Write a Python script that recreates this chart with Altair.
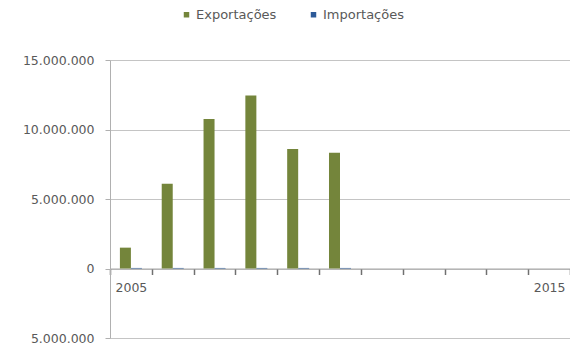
import altair as alt
import pandas as pd

years = [str(y) for y in range(2005, 2016)]
data_years = ["2005", "2006", "2007", "2008", "2009", "2010"]
exportacoes = [1500000, 6100000, 10750000, 12450000, 8600000, 8330000]
importacoes = [40000, 40000, 40000, 40000, 40000, 40000]
series = ["Exportações", "Importações"]
colors = ["#74853b", "#2d5a98"]
y_ticks = [-5000000, 0, 5000000, 10000000, 15000000]

rows = []
for yr, e, i in zip(data_years, exportacoes, importacoes):
    rows.append({"ano": yr, "serie": series[0], "valor": e})
    rows.append({"ano": yr, "serie": series[1], "valor": i})
df = pd.DataFrame(rows)

W, H = 460, 278
FONT = "DejaVu Sans"
GRAY = "#595959"

chart = alt.Chart(df).mark_bar().encode(
    x=alt.X("ano:O",
            scale=alt.Scale(domain=years, paddingInner=0, paddingOuter=0),
            axis=alt.Axis(title=None, orient="bottom", offset=-H / 4,
                          labelAngle=0, ticks=True, tickBand="extent", tickSize=6,
                          tickWidth=1.5, tickOpacity=1,
                          tickColor="#707070", domainColor="#a6a6a6",
                          labelExpr="datum.value == '2005' || datum.value == '2015' ? datum.value : ''",
                          labelFont=FONT, labelFontSize=12.5, labelColor=GRAY,
                          labelPadding=7, grid=False)),
    xOffset=alt.XOffset("serie:N", scale=alt.Scale(domain=series, paddingOuter=0.9, paddingInner=0)),
    y=alt.Y("valor:Q", stack=None,
            scale=alt.Scale(domain=[-5000000, 15000000], nice=False, zero=False),
            axis=alt.Axis(title=None, values=y_ticks, grid=True, gridColor="#c4c4c4",
                          domainColor="#b0b0b0", tickColor="#b0b0b0", tickSize=5,
                          labelExpr="replace(format(abs(datum.value), ','), regexp(',', 'g'), '.')",
                          labelFont=FONT, labelFontSize=12.5, labelColor=GRAY,
                          labelPadding=11)),
    color=alt.Color("serie:N", scale=alt.Scale(domain=series, range=colors),
                    legend=alt.Legend(title=None, orient="none", direction="horizontal",
                                      legendX=70, legendY=-52, symbolType="square",
                                      symbolSize=30, symbolStrokeWidth=0,
                                      labelFont=FONT, labelFontSize=13, labelColor=GRAY,
                                      labelOffset=3, columnPadding=30)),
).properties(
    width=W, height=H,
    autosize=alt.AutoSizeParams(type="none"),
    padding={"left": 110, "top": 60, "right": 0, "bottom": 7},
).configure_view(stroke=None).configure(background="white")

chart.save("out.html", embed_options={"renderer": "svg", "actions": False})
